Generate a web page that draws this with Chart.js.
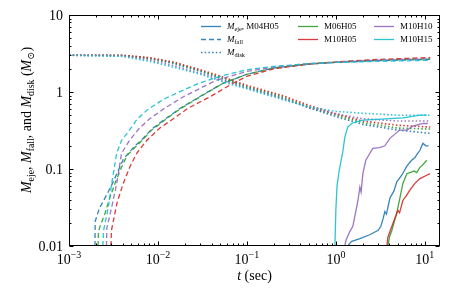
<!DOCTYPE html>
<html>
<head>
<meta charset="utf-8">
<script src="https://cdn.jsdelivr.net/npm/chart.js@4.4.0/dist/chart.umd.min.js"></script>
<style>
  html, body { margin: 0; padding: 0; background: #fff; }
  canvas { display: block; }
</style>
</head>
<body>
<canvas id="chart_canvas" width="463" height="290"></canvas>
<script>
// t (sec), mass (Msun) pairs
const models = ['M04H05', 'M06H05', 'M10H05', 'M10H10', 'M10H15'];

const eje_M04H05 = [[1.36,0.01],[1.45,0.011],[1.51,0.0115],[1.86,0.0125],[2.4,0.014],[2.99,0.016],[3.2,0.018],[3.4,0.0228],[3.55,0.028],[3.7,0.026],[4.05,0.042],[4.5,0.052],[4.84,0.068],[5.5,0.083],[6.3,0.11],[7.1,0.13],[7.7,0.14],[8.3,0.16],[8.8,0.175],[9.5,0.215],[10.3,0.2],[11.0,0.2]];
const eje_M06H05 = [[3.84,0.01],[4.0,0.013],[4.26,0.016],[4.84,0.027],[5.24,0.042],[5.66,0.065],[6.28,0.087],[7.14,0.092],[7.6,0.094],[8.1,0.09],[8.8,0.105],[9.25,0.11],[10.5,0.13]];
const eje_M10H05 = [[3.74,0.01],[3.84,0.013],[4.26,0.018],[4.6,0.023],[4.98,0.029],[5.2,0.027],[5.66,0.039],[6.2,0.045],[6.78,0.053],[7.73,0.065],[8.79,0.075],[10.5,0.083],[11.4,0.087]];
const eje_M10H10 = [[1.26,0.01],[1.3,0.012],[1.44,0.0155],[1.55,0.018],[1.63,0.024],[1.77,0.039],[1.86,0.058],[1.92,0.05],[2.01,0.087],[2.17,0.13],[2.41,0.16],[2.6,0.185],[3.1,0.19],[3.55,0.2],[4.05,0.25],[5.2,0.32],[6.3,0.32],[7.3,0.36],[9.5,0.39],[10.8,0.39]];
const eje_M10H15 = [[0.975,0.01],[1.0,0.03],[1.03,0.06],[1.08,0.09],[1.13,0.12],[1.2,0.17],[1.26,0.26],[1.36,0.35],[1.5,0.39],[1.7,0.41],[2.0,0.43],[2.9,0.44],[4.0,0.45],[5.7,0.46],[8.8,0.5],[10.5,0.5]];

const fall_M04H05 = [[0.00196,0.01],[0.00197,0.021],[0.0022,0.031],[0.0027,0.048],[0.0031,0.066],[0.0035,0.09],[0.0041,0.135],[0.0055,0.2],[0.0066,0.24],[0.0085,0.33],[0.0125,0.46],[0.018,0.62],[0.03,0.88],[0.054,1.3],[0.1,1.7],[0.2,2.05],[0.5,2.3],[1,2.42],[3,2.55],[11.5,2.65]];
const fall_M06H05 = [[0.00212,0.01],[0.00214,0.015],[0.00223,0.018],[0.00254,0.0265],[0.00289,0.043],[0.00329,0.065],[0.0039,0.106],[0.0045,0.15],[0.0055,0.19],[0.0066,0.235],[0.0085,0.32],[0.0125,0.45],[0.018,0.61],[0.03,0.87],[0.054,1.3],[0.1,1.7],[0.2,2.05],[0.5,2.32],[1,2.45],[3,2.6],[11.5,2.7]];
const fall_M10H05 = [[0.00296,0.01],[0.003,0.016],[0.00346,0.036],[0.00407,0.065],[0.00484,0.107],[0.00577,0.16],[0.0075,0.236],[0.0105,0.34],[0.0149,0.45],[0.022,0.62],[0.038,0.86],[0.07,1.3],[0.1,1.6],[0.2,2.0],[0.5,2.3],[1,2.45],[3,2.65],[11.5,2.8]];
const fall_M10H10 = [[0.00264,0.01],[0.00266,0.017],[0.00302,0.032],[0.00344,0.065],[0.00374,0.118],[0.0039,0.16],[0.0048,0.236],[0.0062,0.34],[0.0081,0.45],[0.012,0.62],[0.0191,0.86],[0.03,1.12],[0.045,1.42],[0.1,1.85],[0.2,2.1],[0.5,2.35],[1,2.45],[3,2.6],[11.5,2.7]];
const fall_M10H15 = [[0.0024,0.01],[0.00245,0.016],[0.00277,0.032],[0.00302,0.065],[0.00329,0.118],[0.00344,0.16],[0.0039,0.236],[0.0045,0.29],[0.0058,0.44],[0.0075,0.58],[0.0105,0.75],[0.0125,0.84],[0.02,1.08],[0.03,1.32],[0.05,1.6],[0.1,1.95],[0.2,2.15],[0.5,2.33],[1,2.42],[3,2.5],[11.5,2.58]];

const disk_M04H05 = [[0.001,3.0],[0.004,2.98],[0.008,2.72],[0.015,2.35],[0.03,1.85],[0.06,1.4],[0.1,1.15],[0.25,0.84],[0.5,0.62],[1,0.48],[2,0.38],[5,0.32],[11.5,0.29]];
const disk_M06H05 = [[0.001,3.0],[0.004,3.0],[0.008,2.75],[0.015,2.4],[0.03,1.9],[0.06,1.45],[0.1,1.18],[0.25,0.87],[0.5,0.64],[1,0.5],[2,0.4],[5,0.34],[11.5,0.33]];
const disk_M10H05 = [[0.001,3.0],[0.004,3.0],[0.008,2.8],[0.015,2.45],[0.03,1.95],[0.06,1.5],[0.1,1.22],[0.25,0.9],[0.5,0.67],[1,0.52],[2,0.42],[5,0.37],[11.5,0.35]];
const disk_M10H10 = [[0.001,3.0],[0.004,2.95],[0.008,2.6],[0.015,2.2],[0.03,1.75],[0.06,1.35],[0.1,1.12],[0.25,0.82],[0.5,0.63],[1,0.52],[2,0.45],[5,0.42],[11.5,0.42]];
const disk_M10H15 = [[0.001,3.0],[0.004,2.9],[0.008,2.5],[0.015,2.1],[0.03,1.7],[0.06,1.3],[0.1,1.1],[0.25,0.8],[0.5,0.64],[1,0.56],[2,0.53],[5,0.5],[11.5,0.5]];

const xTickExps = [-3, -2, -1, 0, 1];
const yTickVals = [0.01, 0.1, 1, 10];
const yTickLabels = ['0.01', '0.1', '1', '10'];

const ejeData = [eje_M04H05, eje_M06H05, eje_M10H05, eje_M10H10, eje_M10H15];
const fallData = [fall_M04H05, fall_M06H05, fall_M10H05, fall_M10H10, fall_M10H15];
const diskData = [disk_M04H05, disk_M06H05, disk_M10H05, disk_M10H10, disk_M10H15];

const colors = ['rgba(31,119,180,0.9)', 'rgba(44,160,44,0.9)', 'rgba(214,39,40,0.9)', 'rgba(148,103,189,0.9)', 'rgba(23,190,207,0.9)'];
const SERIF = '"Liberation Serif", "DejaVu Serif", serif';
const DASH = [5, 3];
const DOT = [1.5, 2.2];

function pts(arr) {
  return arr.map(p => ({x: p[0], y: p[1]}));
}

let datasets = [];
models.forEach((m, i) => {
  datasets.push({label: m + ' eje', data: pts(ejeData[i]), borderColor: colors[i], borderWidth: 1.3});
  datasets.push({label: m + ' fall', data: pts(fallData[i]), borderColor: colors[i], borderWidth: 1.3, borderDash: DASH});
  datasets.push({label: m + ' disk', data: pts(diskData[i]), borderColor: colors[i], borderWidth: 1.6, borderDash: DOT});
});
// chart.js paints index 0 last, matplotlib paints last-plotted on top
datasets.reverse();

function mathM(size, sub) {
  return [
    {text: 'M', font: 'italic ' + size + 'px ' + SERIF},
    {text: sub, font: (size * 0.7).toFixed(1) + 'px ' + SERIF, dy: size * 0.22}
  ];
}
function richWidth(ctx, parts) {
  let w = 0;
  parts.forEach(p => { ctx.font = p.font; w += ctx.measureText(p.text).width; });
  return w;
}
function drawRich(ctx, parts, x, y) {
  parts.forEach(p => {
    ctx.font = p.font;
    ctx.fillText(p.text, x, y + (p.dy || 0));
    x += ctx.measureText(p.text).width;
  });
}

const frame = {
  id: 'frame',
  afterDatasetsDraw(chart) {
    const ctx = chart.ctx, a = chart.chartArea;
    const xs = chart.scales.x, ys = chart.scales.y;
    ctx.save();
    ctx.strokeStyle = '#000';
    ctx.fillStyle = '#000';
    ctx.lineWidth = 1;
    const L = Math.round(a.left) + 0.5, R = Math.round(a.right) - 0.5;
    const T = Math.round(a.top) + 0.5, B = Math.round(a.bottom) - 0.5;
    ctx.strokeRect(L, T, R - L, B - T);

    // inward ticks on all sides
    ctx.beginPath();
    for (let e = -3; e <= 1; e++) {
      for (let k = 1; k <= 9; k++) {
        const v = k * Math.pow(10, e);
        if (v < xs.min || v > xs.max) continue;
        const px = Math.round(xs.getPixelForValue(v)) + 0.5;
        const len = k === 1 ? 4 : 2;
        ctx.moveTo(px, B); ctx.lineTo(px, B - len);
        ctx.moveTo(px, T); ctx.lineTo(px, T + len);
      }
    }
    for (let e = -2; e <= 1; e++) {
      for (let k = 1; k <= 9; k++) {
        const v = k * Math.pow(10, e);
        if (v < ys.min * 0.999 || v > ys.max * 1.001) continue;
        const py = Math.round(ys.getPixelForValue(v)) + 0.5;
        const len = k === 1 ? 4 : 2;
        ctx.moveTo(L, py); ctx.lineTo(L + len, py);
        ctx.moveTo(R, py); ctx.lineTo(R - len, py);
      }
    }
    ctx.stroke();

    // tick labels
    ctx.textBaseline = 'alphabetic';
    xTickExps.forEach(ex => {
      const px = xs.getPixelForValue(Math.pow(10, ex));
      const parts = [
        {text: '10', font: '14px ' + SERIF},
        {text: (ex < 0 ? '\u2212' : '') + Math.abs(ex), font: '10px ' + SERIF, dy: -6}
      ];
      drawRich(ctx, parts, px - richWidth(ctx, parts) / 2, 264);
    });
    ctx.textAlign = 'right';
    ctx.textBaseline = 'middle';
    ctx.font = '14px ' + SERIF;
    yTickVals.forEach((v, i) => {
      ctx.fillText(yTickLabels[i], 63, ys.getPixelForValue(v) + 1);
    });

    // axis titles
    ctx.textAlign = 'left';
    ctx.textBaseline = 'alphabetic';
    const xt = [{text: 't', font: 'italic 14px ' + SERIF}, {text: ' (sec)', font: '14px ' + SERIF}];
    drawRich(ctx, xt, (a.left + a.right) / 2 - richWidth(ctx, xt) / 2, 280);

    const yt = [].concat(mathM(14, 'eje'), [{text: ', ', font: '14px ' + SERIF}],
      mathM(14, 'fall'), [{text: ', and ', font: '14px ' + SERIF}],
      mathM(14, 'disk'), [{text: ' (', font: '14px ' + SERIF}],
      mathM(14, '\u2299'), [{text: ')', font: '14px ' + SERIF}]);
    ctx.save();
    ctx.translate(31, 120);
    ctx.rotate(-Math.PI / 2);
    drawRich(ctx, yt, -richWidth(ctx, yt) / 2, 0);
    ctx.restore();

    // legend, three columns
    const rows = [26, 39, 52];
    const legend = [
      {x: 201, row: 0, color: colors[0], dash: [], text: mathM(9, 'eje').concat([{text: ', M04H05', font: '9px ' + SERIF}])},
      {x: 201, row: 1, color: colors[0], dash: DASH, text: mathM(9, 'fall')},
      {x: 201, row: 2, color: colors[0], dash: DOT, text: mathM(9, 'disk')},
      {x: 298, row: 0, color: colors[1], dash: [], text: [{text: 'M06H05', font: '9px ' + SERIF}]},
      {x: 298, row: 1, color: colors[2], dash: [], text: [{text: 'M10H05', font: '9px ' + SERIF}]},
      {x: 374, row: 0, color: colors[3], dash: [], text: [{text: 'M10H10', font: '9px ' + SERIF}]},
      {x: 374, row: 1, color: colors[4], dash: [], text: [{text: 'M10H15', font: '9px ' + SERIF}]}
    ];
    legend.forEach(it => {
      const y = rows[it.row];
      ctx.strokeStyle = it.color;
      ctx.lineWidth = it.dash === DOT ? 1.6 : 1.3;
      ctx.setLineDash(it.dash);
      ctx.beginPath();
      ctx.moveTo(it.x, y + 0.5);
      ctx.lineTo(it.x + 20, y + 0.5);
      ctx.stroke();
      ctx.setLineDash([]);
      ctx.fillStyle = '#000';
      drawRich(ctx, it.text, it.x + 26, y + 3);
    });
    ctx.restore();
  }
};

new Chart(document.getElementById('chart_canvas'), {
  type: 'line',
  data: {datasets: datasets},
  options: {
    responsive: false,
    animation: false,
    devicePixelRatio: 1,
    layout: {padding: {left: 69, right: 23, top: 15, bottom: 44}},
    elements: {point: {radius: 0}, line: {tension: 0}},
    plugins: {legend: {display: false}, tooltip: {enabled: false}},
    scales: {
      x: {
        type: 'logarithmic', min: 1e-3, max: 14.8,
        grid: {display: false, drawTicks: false}, border: {display: false},
        ticks: {display: false}
      },
      y: {
        type: 'logarithmic', min: 0.01, max: 10,
        grid: {display: false, drawTicks: false}, border: {display: false},
        ticks: {display: false}
      }
    }
  },
  plugins: [frame]
});
</script>
</body>
</html>
